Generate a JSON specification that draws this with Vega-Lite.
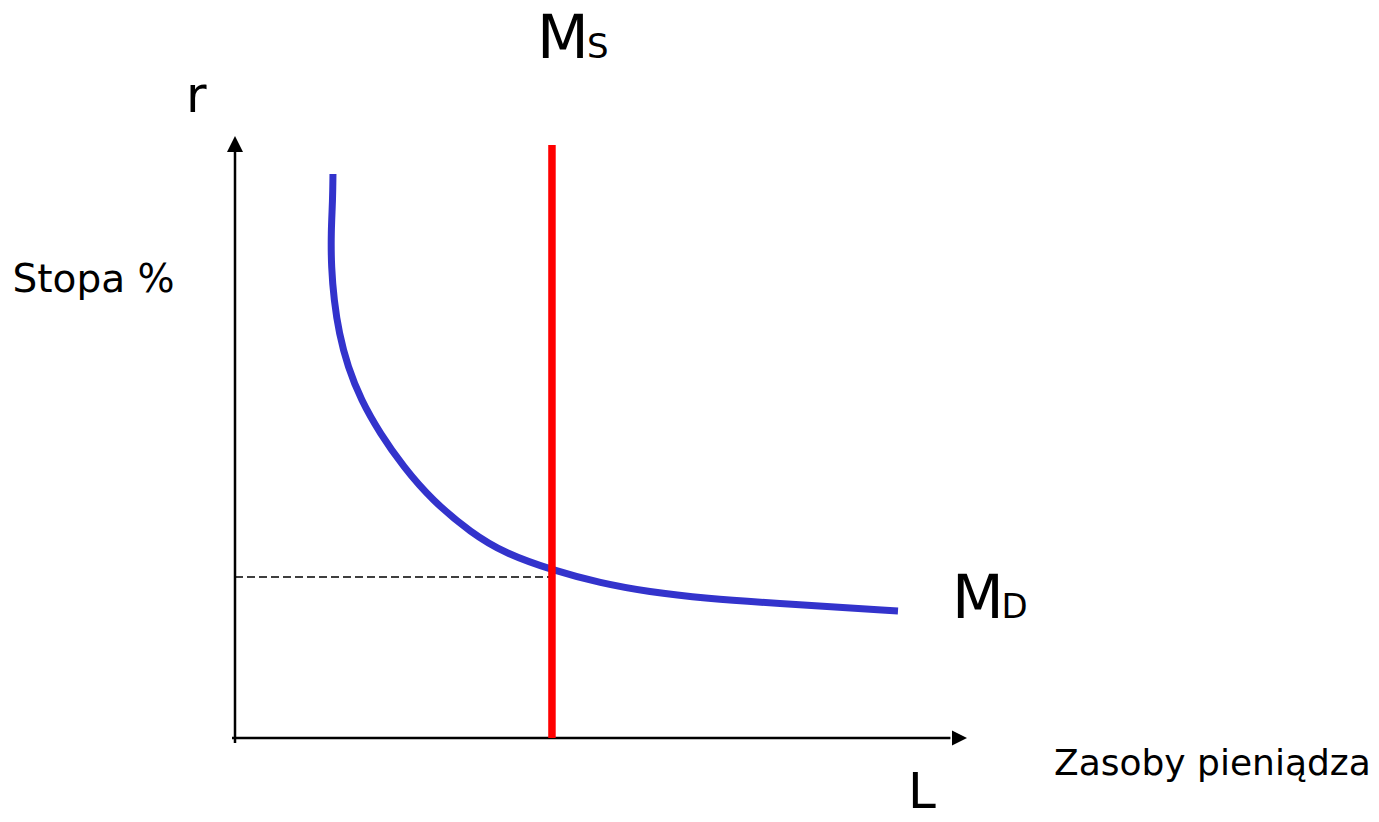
{
  "$schema": "https://vega.github.io/schema/vega-lite/v6.json",
  "autosize": {"type": "none"},
  "width": 730,
  "height": 600,
  "padding": {"left": 235, "top": 138, "right": 414, "bottom": 84},
  "background": "white",
  "config": {"view": {"stroke": null}, "text": {"font": "DejaVu Sans"}},
  "datasets": {
    "md": [
      {"i": 0, "L": 1.342, "r": 9.40},
      {"i": 1, "L": 1.338, "r": 8.967},
      {"i": 2, "L": 1.315, "r": 8.417},
      {"i": 3, "L": 1.319, "r": 7.85},
      {"i": 4, "L": 1.356, "r": 7.30},
      {"i": 5, "L": 1.425, "r": 6.745},
      {"i": 6, "L": 1.544, "r": 6.188},
      {"i": 7, "L": 1.726, "r": 5.633},
      {"i": 8, "L": 1.986, "r": 5.078},
      {"i": 9, "L": 2.305, "r": 4.522},
      {"i": 10, "L": 2.695, "r": 3.967},
      {"i": 11, "L": 3.242, "r": 3.412},
      {"i": 12, "L": 3.699, "r": 3.078},
      {"i": 13, "L": 4.342, "r": 2.80},
      {"i": 14, "L": 5.0, "r": 2.583},
      {"i": 15, "L": 5.685, "r": 2.433},
      {"i": 16, "L": 6.370, "r": 2.333},
      {"i": 17, "L": 7.740, "r": 2.217},
      {"i": 18, "L": 9.082, "r": 2.117}
    ],
    "ms": [{"L": 4.342, "r0": 0, "r1": 9.883}],
    "eq": [{"L0": 0, "L": 4.342, "r": 2.683}],
    "axes": [
      {"a": "r", "x1": 0, "x2": 0, "y1": -0.083, "y2": 9.8},
      {"a": "L", "x1": -0.041, "x2": 9.8, "y1": 0, "y2": 0}
    ],
    "arrowUp": [{"x": 0, "y": 9.9}],
    "arrowRight": [{"x": 9.925, "y": 0}],
    "bigLabels": [
      {"t": "M", "x": 4.137, "y": 11.333},
      {"t": "M", "x": 9.822, "y": 2.0}
    ],
    "subLabels": [
      {"t": "S", "x": 4.822, "y": 11.333},
      {"t": "D", "x": 10.5, "y": 2.0}
    ],
    "axisLetters": [
      {"t": "r", "x": -0.671, "y": 10.433},
      {"t": "L", "x": 9.219, "y": -1.167}
    ],
    "yTitle": [
      {"t": "Stopa %", "x": -3.048, "y": 7.438}
    ],
    "xTitle": [
      {"t": "Zasoby pieniądza", "x": 11.219, "y": -0.617}
    ]
  },
  "layer": [
    {
      "data": {"name": "eq"},
      "mark": {"type": "rule", "color": "black", "strokeWidth": 1.5, "strokeDash": [8, 4]},
      "encoding": {
        "x": {"field": "L0", "type": "quantitative", "scale": {"domain": [0, 10], "nice": false, "zero": false}, "axis": null},
        "x2": {"field": "L"},
        "y": {"field": "r", "type": "quantitative", "scale": {"domain": [0, 10], "nice": false, "zero": false}, "axis": null}
      }
    },
    {
      "data": {"name": "axes"},
      "mark": {"type": "rule", "color": "black", "strokeWidth": 2.5},
      "encoding": {
        "x": {"field": "x1", "type": "quantitative", "scale": {"domain": [0, 10], "nice": false, "zero": false}, "axis": null},
        "x2": {"field": "x2"},
        "y": {"field": "y1", "type": "quantitative", "scale": {"domain": [0, 10], "nice": false, "zero": false}, "axis": null},
        "y2": {"field": "y2"}
      }
    },
    {
      "data": {"name": "arrowUp"},
      "mark": {"type": "point", "filled": true, "color": "black", "opacity": 1, "shape": "M0,-1L1,1L-1,1Z", "size": 256},
      "encoding": {
        "x": {"field": "x", "type": "quantitative", "scale": {"domain": [0, 10], "nice": false, "zero": false}, "axis": null},
        "y": {"field": "y", "type": "quantitative", "scale": {"domain": [0, 10], "nice": false, "zero": false}, "axis": null}
      }
    },
    {
      "data": {"name": "arrowRight"},
      "mark": {"type": "point", "filled": true, "color": "black", "opacity": 1, "shape": "M-1,-1L1,0L-1,1Z", "size": 225},
      "encoding": {
        "x": {"field": "x", "type": "quantitative", "scale": {"domain": [0, 10], "nice": false, "zero": false}, "axis": null},
        "y": {"field": "y", "type": "quantitative", "scale": {"domain": [0, 10], "nice": false, "zero": false}, "axis": null}
      }
    },
    {
      "data": {"name": "md"},
      "mark": {"type": "line", "color": "#3333CC", "strokeWidth": 7, "interpolate": "basis", "strokeCap": "butt", "strokeJoin": "round"},
      "encoding": {
        "x": {"field": "L", "type": "quantitative", "scale": {"domain": [0, 10], "nice": false, "zero": false}, "axis": null},
        "y": {"field": "r", "type": "quantitative", "scale": {"domain": [0, 10], "nice": false, "zero": false}, "axis": null},
        "order": {"field": "i", "type": "quantitative"}
      }
    },
    {
      "data": {"name": "ms"},
      "mark": {"type": "rule", "color": "#FF0000", "strokeWidth": 7.5},
      "encoding": {
        "x": {"field": "L", "type": "quantitative", "scale": {"domain": [0, 10], "nice": false, "zero": false}, "axis": null},
        "y": {"field": "r0", "type": "quantitative", "scale": {"domain": [0, 10], "nice": false, "zero": false}, "axis": null},
        "y2": {"field": "r1"}
      }
    },
    {
      "data": {"name": "bigLabels"},
      "mark": {"type": "text", "fontSize": 60, "align": "left", "baseline": "alphabetic", "color": "black"},
      "encoding": {
        "x": {"field": "x", "type": "quantitative", "scale": {"domain": [0, 10], "nice": false, "zero": false}, "axis": null},
        "y": {"field": "y", "type": "quantitative", "scale": {"domain": [0, 10], "nice": false, "zero": false}, "axis": null},
        "text": {"field": "t"}
      }
    },
    {
      "data": {"name": "subLabels"},
      "mark": {"type": "text", "fontSize": 34, "align": "left", "baseline": "alphabetic", "color": "black"},
      "encoding": {
        "x": {"field": "x", "type": "quantitative", "scale": {"domain": [0, 10], "nice": false, "zero": false}, "axis": null},
        "y": {"field": "y", "type": "quantitative", "scale": {"domain": [0, 10], "nice": false, "zero": false}, "axis": null},
        "text": {"field": "t"}
      }
    },
    {
      "data": {"name": "axisLetters"},
      "mark": {"type": "text", "fontSize": 50, "align": "left", "baseline": "alphabetic", "color": "black"},
      "encoding": {
        "x": {"field": "x", "type": "quantitative", "scale": {"domain": [0, 10], "nice": false, "zero": false}, "axis": null},
        "y": {"field": "y", "type": "quantitative", "scale": {"domain": [0, 10], "nice": false, "zero": false}, "axis": null},
        "text": {"field": "t"}
      }
    },
    {
      "data": {"name": "yTitle"},
      "mark": {"type": "text", "fontSize": 39, "align": "left", "baseline": "alphabetic", "color": "black"},
      "encoding": {
        "x": {"field": "x", "type": "quantitative", "scale": {"domain": [0, 10], "nice": false, "zero": false}, "axis": null},
        "y": {"field": "y", "type": "quantitative", "scale": {"domain": [0, 10], "nice": false, "zero": false}, "axis": null},
        "text": {"field": "t"}
      }
    },
    {
      "data": {"name": "xTitle"},
      "mark": {"type": "text", "fontSize": 36, "align": "left", "baseline": "alphabetic", "color": "black"},
      "encoding": {
        "x": {"field": "x", "type": "quantitative", "scale": {"domain": [0, 10], "nice": false, "zero": false}, "axis": null},
        "y": {"field": "y", "type": "quantitative", "scale": {"domain": [0, 10], "nice": false, "zero": false}, "axis": null},
        "text": {"field": "t"}
      }
    }
  ]
}
